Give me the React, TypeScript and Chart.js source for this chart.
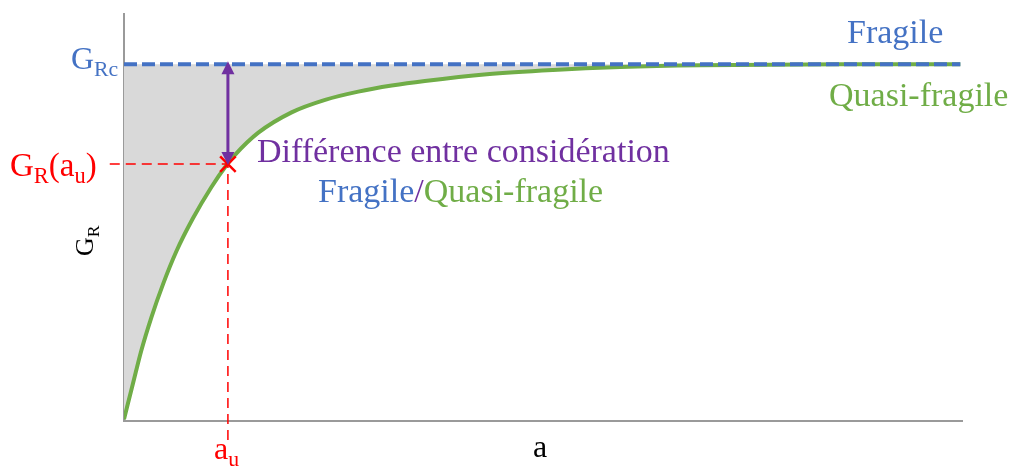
import React, { useEffect, useRef } from "react";
import { Chart, registerables } from "chart.js";

Chart.register(...registerables);

// Crack length a (arbitrary units) and resistance G_R (arbitrary units, G_Rc = 100)
const curveX = [0, 1.07, 2.06, 3.26, 4.65, 6.24, 8.23, 10.42, 12.2, 13.25, 16.03, 20.0, 24.0, 27.96, 31.95, 35.9, 43.3, 51.2, 59.2, 68.7, 85.7, 99.8];
const curveY = [0.5, 10.5, 19.7, 29.0, 38.3, 47.5, 56.8, 65.5, 71.6, 74.6, 80.8, 86.5, 90.0, 92.3, 94.0, 95.3, 97.2, 98.4, 99.2, 99.7, 100, 100];
const fragileX = [0, 99.8];
const fragileY = [100, 100];
const auX = 12.4;
const grAu = 72.0;
const grc = 100;
const guideStartX = -1.7;
const guideEndY = -5.5;

const BLUE = "#4472C4";
const GREEN = "#70AD47";
const PURPLE = "#7030A0";
const RED = "#FF0000";
const FONT = "'Liberation Serif', 'Times New Roman', serif";

type Part = { t: string; c: string; sub?: boolean };

function drawRich(ctx: CanvasRenderingContext2D, x: number, y: number, parts: Part[], size: number) {
  let cx = x;
  for (const p of parts) {
    const s = p.sub ? size * 0.68 : size;
    ctx.font = `${s}px ${FONT}`;
    ctx.fillStyle = p.c;
    ctx.textBaseline = "alphabetic";
    ctx.textAlign = "left";
    ctx.fillText(p.t, cx, y + (p.sub ? size * 0.22 : 0));
    cx += ctx.measureText(p.t).width;
  }
}

const overlay = {
  id: "overlay",
  afterDatasetsDraw(chart: any) {
    const { ctx, scales } = chart;
    const xs = scales.x;
    const ys = scales.y;
    const px = xs.getPixelForValue(auX);
    const top = ys.getPixelForValue(grc);
    const bot = ys.getPixelForValue(grAu);
    ctx.save();
    ctx.strokeStyle = PURPLE;
    ctx.fillStyle = PURPLE;
    ctx.lineWidth = 3;
    ctx.beginPath();
    ctx.moveTo(px, top + 8);
    ctx.lineTo(px, bot - 8);
    ctx.stroke();
    ctx.beginPath();
    ctx.moveTo(px, top - 3);
    ctx.lineTo(px - 6.5, top + 10);
    ctx.lineTo(px + 6.5, top + 10);
    ctx.closePath();
    ctx.fill();
    ctx.beginPath();
    ctx.moveTo(px, bot + 1);
    ctx.lineTo(px - 6.5, bot - 12);
    ctx.lineTo(px + 6.5, bot - 12);
    ctx.closePath();
    ctx.fill();
    ctx.restore();
  },
  afterDraw(chart: any) {
    const { ctx } = chart;
    ctx.save();
    drawRich(ctx, 71, 69, [{ t: "G", c: BLUE }, { t: "Rc", c: BLUE, sub: true }], 32);
    drawRich(ctx, 10, 176, [
      { t: "G", c: RED },
      { t: "R", c: RED, sub: true },
      { t: "(a", c: RED },
      { t: "u", c: RED, sub: true },
      { t: ")", c: RED },
    ], 33);
    drawRich(ctx, 214, 459, [{ t: "a", c: RED }, { t: "u", c: RED, sub: true }], 32);
    drawRich(ctx, 533, 457, [{ t: "a", c: "#000" }], 32);
    drawRich(ctx, 847, 43, [{ t: "Fragile", c: BLUE }], 34);
    drawRich(ctx, 829, 106, [{ t: "Quasi-fragile", c: GREEN }], 34);
    drawRich(ctx, 257, 162, [{ t: "Différence entre considération", c: PURPLE }], 34);
    drawRich(ctx, 318, 202, [
      { t: "Fragile", c: BLUE },
      { t: "/", c: PURPLE },
      { t: "Quasi-fragile", c: GREEN },
    ], 34);
    ctx.translate(93, 256);
    ctx.rotate(-Math.PI / 2);
    drawRich(ctx, 0, 0, [{ t: "G", c: "#000" }, { t: "R", c: "#000", sub: true }], 26);
    ctx.restore();
  },
};

export default function App() {
  const ref = useRef<HTMLCanvasElement>(null);
  useEffect(() => {
    if (!ref.current) return;
    const chart = new Chart(ref.current, {
      type: "line",
      data: {
        datasets: [
          {
            label: "Fragile",
            data: fragileX.map((x, i) => ({ x, y: fragileY[i] })),
            borderColor: BLUE,
            borderWidth: 4,
            borderDash: [13, 5],
            pointRadius: 0,
            fill: false,
            order: 0,
          },
          {
            label: "Quasi-fragile",
            data: curveX.map((x, i) => ({ x, y: curveY[i] })),
            borderColor: GREEN,
            borderWidth: 4,
            pointRadius: 0,
            cubicInterpolationMode: "monotone",
            fill: { value: grc },
            backgroundColor: "#d9d9d9",
            order: 1,
          },
          {
            label: "guide",
            data: [
              { x: guideStartX, y: grAu },
              { x: auX, y: grAu },
              { x: auX, y: guideEndY },
            ],
            borderColor: RED,
            borderWidth: 1.5,
            borderDash: [10, 6],
            pointRadius: 0,
            fill: false,
            clip: false,
            tension: 0,
            order: -1,
          },
          {
            label: "au",
            data: [{ x: auX, y: grAu }],
            showLine: false,
            pointStyle: "crossRot",
            pointRadius: 11,
            pointBorderColor: RED,
            pointBorderWidth: 2.5,
            borderColor: RED,
            fill: false,
            clip: false,
            order: -2,
          },
        ] as any,
      },
      options: {
        animation: false,
        responsive: false,
        events: [],
        layout: { padding: { left: 124, right: 51, top: 10, bottom: 47 } },
        plugins: { legend: { display: false }, tooltip: { enabled: false } },
        scales: {
          x: {
            type: "linear",
            min: 0,
            max: 100,
            ticks: { display: false },
            grid: { display: false },
            border: { display: true, color: "#9a9a9a", width: 2 },
            afterFit: (s: any) => { s.height = 0; },
          },
          y: {
            type: "linear",
            min: 0,
            max: 114.2,
            ticks: { display: false },
            grid: { display: false },
            border: { display: true, color: "#9a9a9a", width: 2 },
            afterFit: (s: any) => { s.width = 0; },
          },
        },
      },
      plugins: [overlay],
    });
    return () => chart.destroy();
  }, []);
  return (
    <div style={{ position: "absolute", left: 0, top: 0, width: 1013, height: 468, background: "#fff" }}>
      <canvas ref={ref} width={1013} height={468} style={{ width: 1013, height: 468 }} />
    </div>
  );
}
